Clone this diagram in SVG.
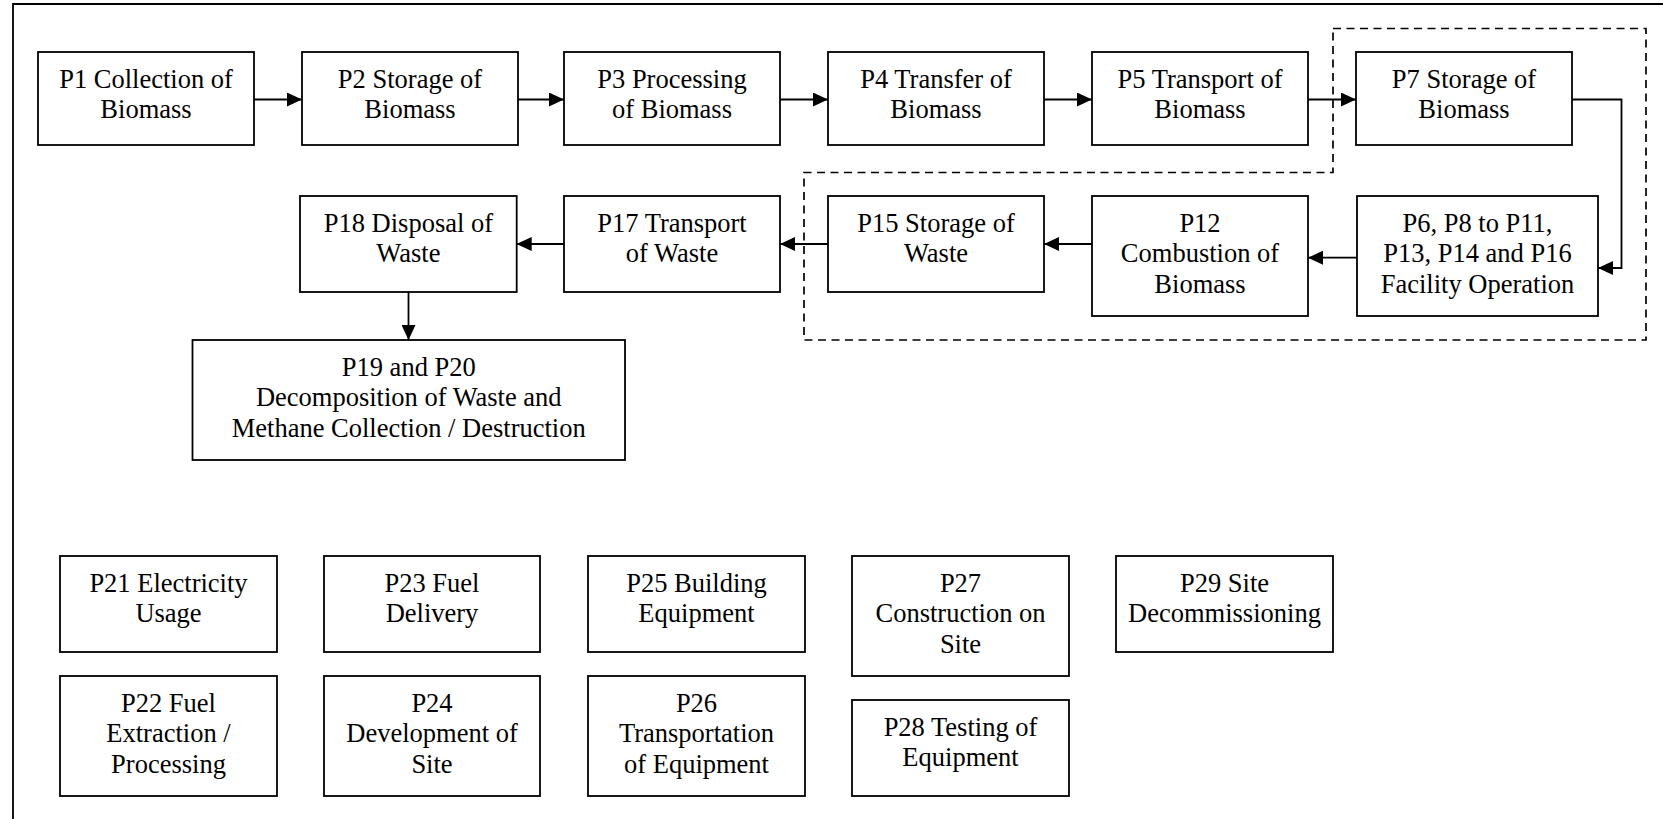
<svg xmlns="http://www.w3.org/2000/svg" width="1663" height="819" viewBox="0 0 1663 819">
<defs>
<style>
.box{fill:#fff;stroke:#000;stroke-width:1.8}
.t{font-size:26.5px;text-anchor:middle;fill:#000}
.ln{fill:none;stroke:#000;stroke-width:1.8}
.dash{fill:none;stroke:#000;stroke-width:1.7;stroke-dasharray:8 5.5}
</style>
<marker id="ah" markerUnits="userSpaceOnUse" markerWidth="15" markerHeight="14" refX="15" refY="7" orient="auto">
<path d="M0,0 L15,7 L0,14 Z" fill="#000"/>
</marker>
</defs>
<rect width="1663" height="819" fill="#fff"/>
<g id="frame">
<path class="ln" d="M13,819 V4 H1663" stroke-width="2.2"/>
</g>
<g id="boundary">
<path class="dash" d="M1333,28.5 H1646 V340 H804 V172.5 H1333 Z"/>
</g>
<g id="connectors">
<path class="ln" marker-end="url(#ah)" d="M254,99.5 H302"/>
<path class="ln" marker-end="url(#ah)" d="M518,99.5 H564"/>
<path class="ln" marker-end="url(#ah)" d="M780,99.5 H828"/>
<path class="ln" marker-end="url(#ah)" d="M1044,99.5 H1092"/>
<path class="ln" marker-end="url(#ah)" d="M1308,99.5 H1356"/>
<path class="ln" marker-end="url(#ah)" d="M1572,99.5 H1621.5 V268 H1598"/>
<path class="ln" marker-end="url(#ah)" d="M1357,257.7 H1308"/>
<path class="ln" marker-end="url(#ah)" d="M1092,244 H1044"/>
<path class="ln" marker-end="url(#ah)" d="M828,244 H780"/>
<path class="ln" marker-end="url(#ah)" d="M564,244 H516.7"/>
<path class="ln" marker-end="url(#ah)" d="M408.5,292 V340"/>
</g>
<g id="nodes" font-family="'Liberation Serif', 'Times New Roman', Tinos, 'DejaVu Serif', serif">
<g id="P1"><rect class="box" x="38" y="52" width="216" height="93"/><text class="t"><tspan x="146" y="87.5">P1 Collection of</tspan><tspan x="146" y="118.3">Biomass</tspan></text></g>
<g id="P2"><rect class="box" x="302" y="52" width="216" height="93"/><text class="t"><tspan x="410" y="87.5">P2 Storage of</tspan><tspan x="410" y="118.3">Biomass</tspan></text></g>
<g id="P3"><rect class="box" x="564" y="52" width="216" height="93"/><text class="t"><tspan x="672" y="87.5">P3 Processing</tspan><tspan x="672" y="118.3">of Biomass</tspan></text></g>
<g id="P4"><rect class="box" x="828" y="52" width="216" height="93"/><text class="t"><tspan x="936" y="87.5">P4 Transfer of</tspan><tspan x="936" y="118.3">Biomass</tspan></text></g>
<g id="P5"><rect class="box" x="1092" y="52" width="216" height="93"/><text class="t"><tspan x="1200" y="87.5">P5 Transport of</tspan><tspan x="1200" y="118.3">Biomass</tspan></text></g>
<g id="P7"><rect class="box" x="1356" y="52" width="216" height="93"/><text class="t"><tspan x="1464" y="87.5">P7 Storage of</tspan><tspan x="1464" y="118.3">Biomass</tspan></text></g>
<g id="P18"><rect class="box" x="300" y="196" width="216.7" height="96"/><text class="t"><tspan x="408.4" y="231.5">P18 Disposal of</tspan><tspan x="408.4" y="262.3">Waste</tspan></text></g>
<g id="P17"><rect class="box" x="564" y="196" width="216" height="96"/><text class="t"><tspan x="672" y="231.5">P17 Transport</tspan><tspan x="672" y="262.3">of Waste</tspan></text></g>
<g id="P15"><rect class="box" x="828" y="196" width="216" height="96"/><text class="t"><tspan x="936" y="231.5">P15 Storage of</tspan><tspan x="936" y="262.3">Waste</tspan></text></g>
<g id="P12"><rect class="box" x="1092" y="196" width="216" height="120"/><text class="t"><tspan x="1200" y="231.5">P12</tspan><tspan x="1200" y="262.3">Combustion of</tspan><tspan x="1200" y="293.1">Biomass</tspan></text></g>
<g id="P6"><rect class="box" x="1357" y="196" width="241" height="120"/><text class="t"><tspan x="1477.5" y="231.5">P6, P8 to P11,</tspan><tspan x="1477.5" y="262.3">P13, P14 and P16</tspan><tspan x="1477.5" y="293.1">Facility Operation</tspan></text></g>
<g id="P19"><rect class="box" x="192.5" y="340" width="432.5" height="120"/><text class="t"><tspan x="408.75" y="375.5">P19 and P20</tspan><tspan x="408.75" y="406.3">Decomposition of Waste and</tspan><tspan x="408.75" y="437.1">Methane Collection / Destruction</tspan></text></g>
<g id="P21"><rect class="box" x="60" y="556" width="217" height="96"/><text class="t"><tspan x="168.5" y="591.5">P21 Electricity</tspan><tspan x="168.5" y="622.3">Usage</tspan></text></g>
<g id="P23"><rect class="box" x="324" y="556" width="216" height="96"/><text class="t"><tspan x="432" y="591.5">P23 Fuel</tspan><tspan x="432" y="622.3">Delivery</tspan></text></g>
<g id="P25"><rect class="box" x="588" y="556" width="217" height="96"/><text class="t"><tspan x="696.5" y="591.5">P25 Building</tspan><tspan x="696.5" y="622.3">Equipment</tspan></text></g>
<g id="P27"><rect class="box" x="852" y="556" width="217" height="120"/><text class="t"><tspan x="960.5" y="591.5">P27</tspan><tspan x="960.5" y="622.3">Construction on</tspan><tspan x="960.5" y="653.1">Site</tspan></text></g>
<g id="P29"><rect class="box" x="1116" y="556" width="217" height="96"/><text class="t"><tspan x="1224.5" y="591.5">P29 Site</tspan><tspan x="1224.5" y="622.3">Decommissioning</tspan></text></g>
<g id="P22"><rect class="box" x="60" y="676" width="217" height="120"/><text class="t"><tspan x="168.5" y="711.5">P22 Fuel</tspan><tspan x="168.5" y="742.3">Extraction /</tspan><tspan x="168.5" y="773.1">Processing</tspan></text></g>
<g id="P24"><rect class="box" x="324" y="676" width="216" height="120"/><text class="t"><tspan x="432" y="711.5">P24</tspan><tspan x="432" y="742.3">Development of</tspan><tspan x="432" y="773.1">Site</tspan></text></g>
<g id="P26"><rect class="box" x="588" y="676" width="217" height="120"/><text class="t"><tspan x="696.5" y="711.5">P26</tspan><tspan x="696.5" y="742.3">Transportation</tspan><tspan x="696.5" y="773.1">of Equipment</tspan></text></g>
<g id="P28"><rect class="box" x="852" y="700" width="217" height="96"/><text class="t"><tspan x="960.5" y="735.5">P28 Testing of</tspan><tspan x="960.5" y="766.3">Equipment</tspan></text></g>
</g>
</svg>
